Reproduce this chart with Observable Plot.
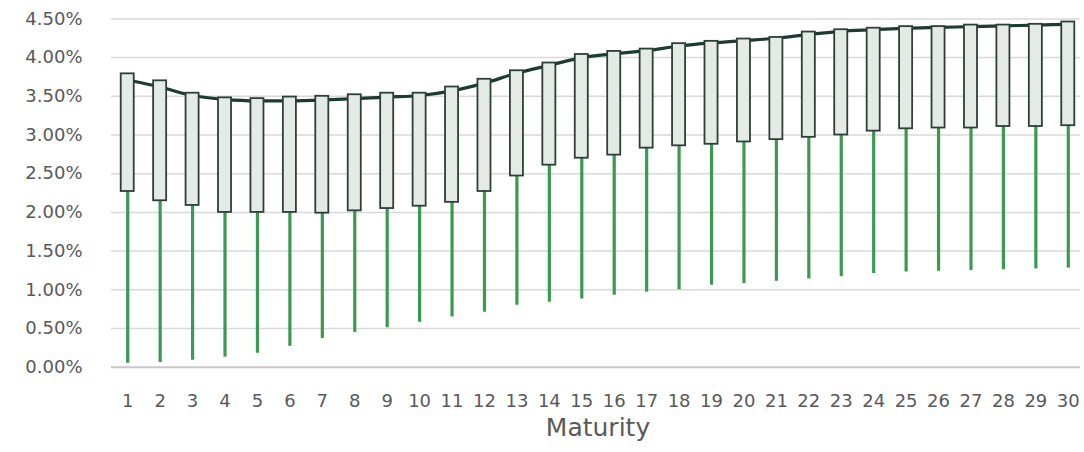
<!DOCTYPE html>
<html>
<head>
<meta charset="utf-8">
<script src="https://cdn.jsdelivr.net/npm/d3@7"></script>
<script src="https://cdn.jsdelivr.net/npm/@observablehq/plot@0.6"></script>
<style>
  html, body { margin: 0; padding: 0; background: #ffffff; }
  #chart { width: 1084px; height: 452px; }
</style>
</head>
<body>
<div id="chart"></div>
<script>
const maturities = d3.range(1, 31);
// box upper edge (%)
const boxHigh = [3.79, 3.70, 3.54, 3.48, 3.47, 3.49, 3.50, 3.52, 3.54, 3.54,
                 3.62, 3.72, 3.83, 3.93, 4.04, 4.08, 4.11, 4.18, 4.21, 4.24,
                 4.26, 4.33, 4.36, 4.38, 4.40, 4.40, 4.42, 4.42, 4.43, 4.46];
// box lower edge (%)
const boxLow = [2.27, 2.15, 2.09, 2.00, 2.00, 2.00, 1.99, 2.02, 2.05, 2.08,
                2.13, 2.27, 2.47, 2.61, 2.70, 2.74, 2.83, 2.86, 2.88, 2.91,
                2.94, 2.97, 3.00, 3.05, 3.08, 3.09, 3.09, 3.11, 3.11, 3.12];
// whisker minimum (%)
const whiskerMin = [0.05, 0.06, 0.09, 0.13, 0.18, 0.27, 0.37, 0.45, 0.51, 0.58,
                    0.65, 0.71, 0.80, 0.84, 0.88, 0.93, 0.97, 1.00, 1.06, 1.08,
                    1.11, 1.14, 1.17, 1.21, 1.23, 1.24, 1.25, 1.26, 1.27, 1.28];
// connecting line (%)
const lineValue = [3.71, 3.62, 3.51, 3.46, 3.44, 3.44, 3.45, 3.47, 3.49, 3.51,
                   3.57, 3.67, 3.80, 3.90, 4.00, 4.05, 4.09, 4.15, 4.19, 4.22,
                   4.25, 4.30, 4.34, 4.36, 4.38, 4.39, 4.40, 4.41, 4.42, 4.43];
const yTicks = [0, 0.5, 1, 1.5, 2, 2.5, 3, 3.5, 4, 4.5];
const xLabel = "Maturity";

const data = maturities.map((m, i) => ({
  m, high: boxHigh[i], low: boxLow[i], min: whiskerMin[i], line: lineValue[i]
}));

const chart = Plot.plot({
  width: 1084,
  height: 452,
  marginLeft: 111,
  marginRight: 0,
  marginTop: 18.4,
  marginBottom: 85.3,
  style: { fontFamily: "DejaVu Sans", fontSize: "18px", color: "#595959", background: "#ffffff" },
  x: { type: "band", domain: maturities, padding: 0, round: false, tickSize: 0, tickPadding: 27, label: null },
  y: { domain: [0, 4.5], ticks: yTicks, tickFormat: d => d.toFixed(2) + "%", tickSize: 0, tickPadding: 29, label: null },
  marks: [
    Plot.ruleY(yTicks.filter(d => d > 0), { stroke: "#d9d9d9", strokeWidth: 1.5, strokeOpacity: 1, insetRight: 4 }),
    Plot.ruleY([0], { stroke: "#c8c8c8", strokeWidth: 2, insetRight: 4 }),
    Plot.ruleX(data, { x: "m", y1: "min", y2: "low", stroke: "#3a9a52", strokeWidth: 3.2 }),
    Plot.line(data, { x: "m", y: "line", stroke: "#1d3a33", strokeWidth: 3.2, curve: "monotone-x" }),
    Plot.barY(data, { x: "m", y1: "low", y2: "high", fill: "#e4ebe5", stroke: "#2e3f38", strokeWidth: 1.8, insetLeft: 9.7, insetRight: 9.7 }),
    Plot.text([xLabel], { frameAnchor: "bottom", dy: 69, fontSize: 25, fill: "#595959" })
  ]
});
document.getElementById("chart").appendChild(chart);
</script>
</body>
</html>
